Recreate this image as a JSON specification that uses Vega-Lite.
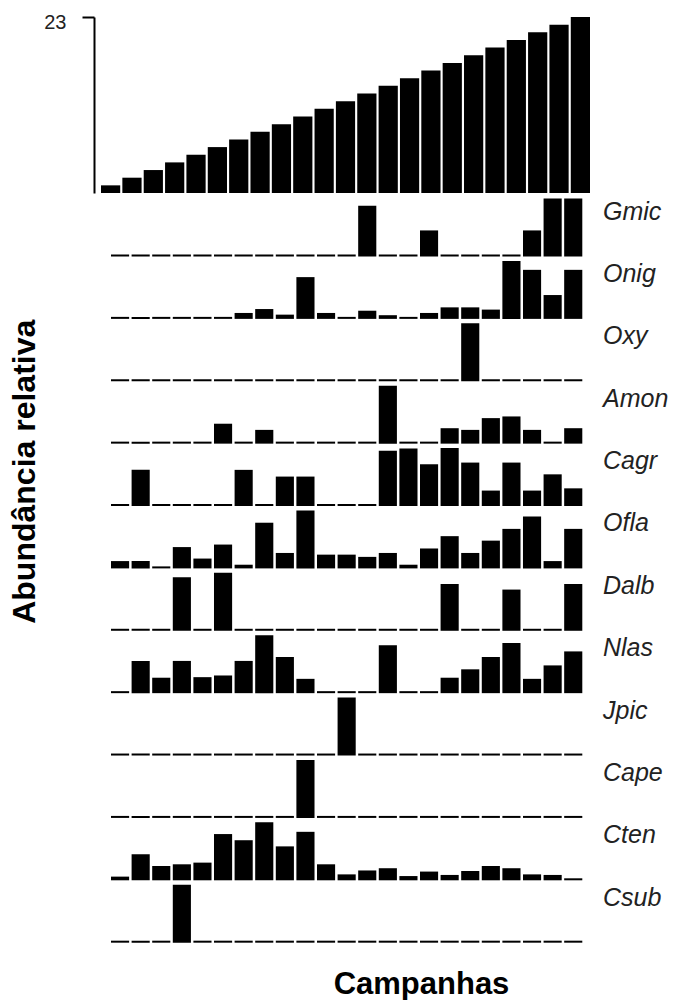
{
  "$schema": "https://vega.github.io/schema/vega-lite/v6.json",
  "padding": {"left": 8, "top": 12, "right": 4, "bottom": 0},
  "config": {
    "font": "Liberation Sans",
    "view": {"stroke": null}
  },
  "title": {
    "text": "Abundância relativa",
    "orient": "left",
    "anchor": "middle",
    "fontSize": 32,
    "fontWeight": "bold",
    "color": "black",
    "offset": 2,
    "dx": 34
  },
  "datasets": {
    "campanhas": [
      {"c": 1, "n": 1}, {"c": 2, "n": 2}, {"c": 3, "n": 3}, {"c": 4, "n": 4},
      {"c": 5, "n": 5}, {"c": 6, "n": 6}, {"c": 7, "n": 7}, {"c": 8, "n": 8},
      {"c": 9, "n": 9}, {"c": 10, "n": 10}, {"c": 11, "n": 11}, {"c": 12, "n": 12},
      {"c": 13, "n": 13}, {"c": 14, "n": 14}, {"c": 15, "n": 15}, {"c": 16, "n": 16},
      {"c": 17, "n": 17}, {"c": 18, "n": 18}, {"c": 19, "n": 19}, {"c": 20, "n": 20},
      {"c": 21, "n": 21}, {"c": 22, "n": 22}, {"c": 23, "n": 23}
    ],
    "abundancia": [
      {"sp": "Gmic", "c": 1, "v": 0}, {"sp": "Gmic", "c": 2, "v": 0}, {"sp": "Gmic", "c": 3, "v": 0}, {"sp": "Gmic", "c": 4, "v": 0},
      {"sp": "Gmic", "c": 5, "v": 0}, {"sp": "Gmic", "c": 6, "v": 0}, {"sp": "Gmic", "c": 7, "v": 0}, {"sp": "Gmic", "c": 8, "v": 0},
      {"sp": "Gmic", "c": 9, "v": 0}, {"sp": "Gmic", "c": 10, "v": 0}, {"sp": "Gmic", "c": 11, "v": 0}, {"sp": "Gmic", "c": 12, "v": 0},
      {"sp": "Gmic", "c": 13, "v": 0.87}, {"sp": "Gmic", "c": 14, "v": 0}, {"sp": "Gmic", "c": 15, "v": 0}, {"sp": "Gmic", "c": 16, "v": 0.43},
      {"sp": "Gmic", "c": 17, "v": 0}, {"sp": "Gmic", "c": 18, "v": 0}, {"sp": "Gmic", "c": 19, "v": 0}, {"sp": "Gmic", "c": 20, "v": 0},
      {"sp": "Gmic", "c": 21, "v": 0.43}, {"sp": "Gmic", "c": 22, "v": 1}, {"sp": "Gmic", "c": 23, "v": 1},

      {"sp": "Onig", "c": 1, "v": 0}, {"sp": "Onig", "c": 2, "v": 0}, {"sp": "Onig", "c": 3, "v": 0}, {"sp": "Onig", "c": 4, "v": 0},
      {"sp": "Onig", "c": 5, "v": 0}, {"sp": "Onig", "c": 6, "v": 0}, {"sp": "Onig", "c": 7, "v": 0.07}, {"sp": "Onig", "c": 8, "v": 0.14},
      {"sp": "Onig", "c": 9, "v": 0.04}, {"sp": "Onig", "c": 10, "v": 0.71}, {"sp": "Onig", "c": 11, "v": 0.07}, {"sp": "Onig", "c": 12, "v": 0},
      {"sp": "Onig", "c": 13, "v": 0.11}, {"sp": "Onig", "c": 14, "v": 0.03}, {"sp": "Onig", "c": 15, "v": 0}, {"sp": "Onig", "c": 16, "v": 0.07},
      {"sp": "Onig", "c": 17, "v": 0.17}, {"sp": "Onig", "c": 18, "v": 0.17}, {"sp": "Onig", "c": 19, "v": 0.13}, {"sp": "Onig", "c": 20, "v": 1},
      {"sp": "Onig", "c": 21, "v": 0.84}, {"sp": "Onig", "c": 22, "v": 0.39}, {"sp": "Onig", "c": 23, "v": 0.84},

      {"sp": "Oxy", "c": 1, "v": 0}, {"sp": "Oxy", "c": 2, "v": 0}, {"sp": "Oxy", "c": 3, "v": 0}, {"sp": "Oxy", "c": 4, "v": 0},
      {"sp": "Oxy", "c": 5, "v": 0}, {"sp": "Oxy", "c": 6, "v": 0}, {"sp": "Oxy", "c": 7, "v": 0}, {"sp": "Oxy", "c": 8, "v": 0},
      {"sp": "Oxy", "c": 9, "v": 0}, {"sp": "Oxy", "c": 10, "v": 0}, {"sp": "Oxy", "c": 11, "v": 0}, {"sp": "Oxy", "c": 12, "v": 0},
      {"sp": "Oxy", "c": 13, "v": 0}, {"sp": "Oxy", "c": 14, "v": 0}, {"sp": "Oxy", "c": 15, "v": 0}, {"sp": "Oxy", "c": 16, "v": 0},
      {"sp": "Oxy", "c": 17, "v": 0}, {"sp": "Oxy", "c": 18, "v": 1}, {"sp": "Oxy", "c": 19, "v": 0}, {"sp": "Oxy", "c": 20, "v": 0},
      {"sp": "Oxy", "c": 21, "v": 0}, {"sp": "Oxy", "c": 22, "v": 0}, {"sp": "Oxy", "c": 23, "v": 0},

      {"sp": "Amon", "c": 1, "v": 0}, {"sp": "Amon", "c": 2, "v": 0}, {"sp": "Amon", "c": 3, "v": 0}, {"sp": "Amon", "c": 4, "v": 0},
      {"sp": "Amon", "c": 5, "v": 0}, {"sp": "Amon", "c": 6, "v": 0.32}, {"sp": "Amon", "c": 7, "v": 0}, {"sp": "Amon", "c": 8, "v": 0.21},
      {"sp": "Amon", "c": 9, "v": 0}, {"sp": "Amon", "c": 10, "v": 0}, {"sp": "Amon", "c": 11, "v": 0}, {"sp": "Amon", "c": 12, "v": 0},
      {"sp": "Amon", "c": 13, "v": 0}, {"sp": "Amon", "c": 14, "v": 1}, {"sp": "Amon", "c": 15, "v": 0}, {"sp": "Amon", "c": 16, "v": 0},
      {"sp": "Amon", "c": 17, "v": 0.24}, {"sp": "Amon", "c": 18, "v": 0.21}, {"sp": "Amon", "c": 19, "v": 0.42}, {"sp": "Amon", "c": 20, "v": 0.45},
      {"sp": "Amon", "c": 21, "v": 0.21}, {"sp": "Amon", "c": 22, "v": 0}, {"sp": "Amon", "c": 23, "v": 0.24},

      {"sp": "Cagr", "c": 1, "v": 0}, {"sp": "Cagr", "c": 2, "v": 0.61}, {"sp": "Cagr", "c": 3, "v": 0}, {"sp": "Cagr", "c": 4, "v": 0},
      {"sp": "Cagr", "c": 5, "v": 0}, {"sp": "Cagr", "c": 6, "v": 0}, {"sp": "Cagr", "c": 7, "v": 0.61}, {"sp": "Cagr", "c": 8, "v": 0},
      {"sp": "Cagr", "c": 9, "v": 0.49}, {"sp": "Cagr", "c": 10, "v": 0.49}, {"sp": "Cagr", "c": 11, "v": 0}, {"sp": "Cagr", "c": 12, "v": 0},
      {"sp": "Cagr", "c": 13, "v": 0}, {"sp": "Cagr", "c": 14, "v": 0.95}, {"sp": "Cagr", "c": 15, "v": 0.99}, {"sp": "Cagr", "c": 16, "v": 0.71},
      {"sp": "Cagr", "c": 17, "v": 1}, {"sp": "Cagr", "c": 18, "v": 0.74}, {"sp": "Cagr", "c": 19, "v": 0.24}, {"sp": "Cagr", "c": 20, "v": 0.74},
      {"sp": "Cagr", "c": 21, "v": 0.24}, {"sp": "Cagr", "c": 22, "v": 0.53}, {"sp": "Cagr", "c": 23, "v": 0.28},

      {"sp": "Ofla", "c": 1, "v": 0.095}, {"sp": "Ofla", "c": 2, "v": 0.095}, {"sp": "Ofla", "c": 3, "v": 0}, {"sp": "Ofla", "c": 4, "v": 0.345},
      {"sp": "Ofla", "c": 5, "v": 0.14}, {"sp": "Ofla", "c": 6, "v": 0.39}, {"sp": "Ofla", "c": 7, "v": 0.03}, {"sp": "Ofla", "c": 8, "v": 0.78},
      {"sp": "Ofla", "c": 9, "v": 0.24}, {"sp": "Ofla", "c": 10, "v": 1}, {"sp": "Ofla", "c": 11, "v": 0.21}, {"sp": "Ofla", "c": 12, "v": 0.21},
      {"sp": "Ofla", "c": 13, "v": 0.17}, {"sp": "Ofla", "c": 14, "v": 0.24}, {"sp": "Ofla", "c": 15, "v": 0.03}, {"sp": "Ofla", "c": 16, "v": 0.32},
      {"sp": "Ofla", "c": 17, "v": 0.54}, {"sp": "Ofla", "c": 18, "v": 0.24}, {"sp": "Ofla", "c": 19, "v": 0.46}, {"sp": "Ofla", "c": 20, "v": 0.67},
      {"sp": "Ofla", "c": 21, "v": 0.89}, {"sp": "Ofla", "c": 22, "v": 0.095}, {"sp": "Ofla", "c": 23, "v": 0.67},

      {"sp": "Dalb", "c": 1, "v": 0}, {"sp": "Dalb", "c": 2, "v": 0}, {"sp": "Dalb", "c": 3, "v": 0}, {"sp": "Dalb", "c": 4, "v": 0.92},
      {"sp": "Dalb", "c": 5, "v": 0}, {"sp": "Dalb", "c": 6, "v": 1}, {"sp": "Dalb", "c": 7, "v": 0}, {"sp": "Dalb", "c": 8, "v": 0},
      {"sp": "Dalb", "c": 9, "v": 0}, {"sp": "Dalb", "c": 10, "v": 0}, {"sp": "Dalb", "c": 11, "v": 0}, {"sp": "Dalb", "c": 12, "v": 0},
      {"sp": "Dalb", "c": 13, "v": 0}, {"sp": "Dalb", "c": 14, "v": 0}, {"sp": "Dalb", "c": 15, "v": 0}, {"sp": "Dalb", "c": 16, "v": 0},
      {"sp": "Dalb", "c": 17, "v": 0.8}, {"sp": "Dalb", "c": 18, "v": 0}, {"sp": "Dalb", "c": 19, "v": 0}, {"sp": "Dalb", "c": 20, "v": 0.7},
      {"sp": "Dalb", "c": 21, "v": 0}, {"sp": "Dalb", "c": 22, "v": 0}, {"sp": "Dalb", "c": 23, "v": 0.8},

      {"sp": "Nlas", "c": 1, "v": 0}, {"sp": "Nlas", "c": 2, "v": 0.54}, {"sp": "Nlas", "c": 3, "v": 0.24}, {"sp": "Nlas", "c": 4, "v": 0.54},
      {"sp": "Nlas", "c": 5, "v": 0.25}, {"sp": "Nlas", "c": 6, "v": 0.28}, {"sp": "Nlas", "c": 7, "v": 0.54}, {"sp": "Nlas", "c": 8, "v": 1},
      {"sp": "Nlas", "c": 9, "v": 0.61}, {"sp": "Nlas", "c": 10, "v": 0.22}, {"sp": "Nlas", "c": 11, "v": 0}, {"sp": "Nlas", "c": 12, "v": 0},
      {"sp": "Nlas", "c": 13, "v": 0}, {"sp": "Nlas", "c": 14, "v": 0.82}, {"sp": "Nlas", "c": 15, "v": 0}, {"sp": "Nlas", "c": 16, "v": 0},
      {"sp": "Nlas", "c": 17, "v": 0.24}, {"sp": "Nlas", "c": 18, "v": 0.39}, {"sp": "Nlas", "c": 19, "v": 0.61}, {"sp": "Nlas", "c": 20, "v": 0.86},
      {"sp": "Nlas", "c": 21, "v": 0.22}, {"sp": "Nlas", "c": 22, "v": 0.46}, {"sp": "Nlas", "c": 23, "v": 0.71},

      {"sp": "Jpic", "c": 1, "v": 0}, {"sp": "Jpic", "c": 2, "v": 0}, {"sp": "Jpic", "c": 3, "v": 0}, {"sp": "Jpic", "c": 4, "v": 0},
      {"sp": "Jpic", "c": 5, "v": 0}, {"sp": "Jpic", "c": 6, "v": 0}, {"sp": "Jpic", "c": 7, "v": 0}, {"sp": "Jpic", "c": 8, "v": 0},
      {"sp": "Jpic", "c": 9, "v": 0}, {"sp": "Jpic", "c": 10, "v": 0}, {"sp": "Jpic", "c": 11, "v": 0}, {"sp": "Jpic", "c": 12, "v": 1},
      {"sp": "Jpic", "c": 13, "v": 0}, {"sp": "Jpic", "c": 14, "v": 0}, {"sp": "Jpic", "c": 15, "v": 0}, {"sp": "Jpic", "c": 16, "v": 0},
      {"sp": "Jpic", "c": 17, "v": 0}, {"sp": "Jpic", "c": 18, "v": 0}, {"sp": "Jpic", "c": 19, "v": 0}, {"sp": "Jpic", "c": 20, "v": 0},
      {"sp": "Jpic", "c": 21, "v": 0}, {"sp": "Jpic", "c": 22, "v": 0}, {"sp": "Jpic", "c": 23, "v": 0},

      {"sp": "Cape", "c": 1, "v": 0}, {"sp": "Cape", "c": 2, "v": 0}, {"sp": "Cape", "c": 3, "v": 0}, {"sp": "Cape", "c": 4, "v": 0},
      {"sp": "Cape", "c": 5, "v": 0}, {"sp": "Cape", "c": 6, "v": 0}, {"sp": "Cape", "c": 7, "v": 0}, {"sp": "Cape", "c": 8, "v": 0},
      {"sp": "Cape", "c": 9, "v": 0}, {"sp": "Cape", "c": 10, "v": 1}, {"sp": "Cape", "c": 11, "v": 0}, {"sp": "Cape", "c": 12, "v": 0},
      {"sp": "Cape", "c": 13, "v": 0}, {"sp": "Cape", "c": 14, "v": 0}, {"sp": "Cape", "c": 15, "v": 0}, {"sp": "Cape", "c": 16, "v": 0},
      {"sp": "Cape", "c": 17, "v": 0}, {"sp": "Cape", "c": 18, "v": 0}, {"sp": "Cape", "c": 19, "v": 0}, {"sp": "Cape", "c": 20, "v": 0},
      {"sp": "Cape", "c": 21, "v": 0}, {"sp": "Cape", "c": 22, "v": 0}, {"sp": "Cape", "c": 23, "v": 0},

      {"sp": "Cten", "c": 1, "v": 0.03}, {"sp": "Cten", "c": 2, "v": 0.43}, {"sp": "Cten", "c": 3, "v": 0.22}, {"sp": "Cten", "c": 4, "v": 0.25},
      {"sp": "Cten", "c": 5, "v": 0.28}, {"sp": "Cten", "c": 6, "v": 0.79}, {"sp": "Cten", "c": 7, "v": 0.68}, {"sp": "Cten", "c": 8, "v": 1},
      {"sp": "Cten", "c": 9, "v": 0.57}, {"sp": "Cten", "c": 10, "v": 0.83}, {"sp": "Cten", "c": 11, "v": 0.25}, {"sp": "Cten", "c": 12, "v": 0.07},
      {"sp": "Cten", "c": 13, "v": 0.14}, {"sp": "Cten", "c": 14, "v": 0.18}, {"sp": "Cten", "c": 15, "v": 0.04}, {"sp": "Cten", "c": 16, "v": 0.12},
      {"sp": "Cten", "c": 17, "v": 0.06}, {"sp": "Cten", "c": 18, "v": 0.13}, {"sp": "Cten", "c": 19, "v": 0.22}, {"sp": "Cten", "c": 20, "v": 0.18},
      {"sp": "Cten", "c": 21, "v": 0.07}, {"sp": "Cten", "c": 22, "v": 0.06}, {"sp": "Cten", "c": 23, "v": 0},

      {"sp": "Csub", "c": 1, "v": 0}, {"sp": "Csub", "c": 2, "v": 0}, {"sp": "Csub", "c": 3, "v": 0}, {"sp": "Csub", "c": 4, "v": 1},
      {"sp": "Csub", "c": 5, "v": 0}, {"sp": "Csub", "c": 6, "v": 0}, {"sp": "Csub", "c": 7, "v": 0}, {"sp": "Csub", "c": 8, "v": 0},
      {"sp": "Csub", "c": 9, "v": 0}, {"sp": "Csub", "c": 10, "v": 0}, {"sp": "Csub", "c": 11, "v": 0}, {"sp": "Csub", "c": 12, "v": 0},
      {"sp": "Csub", "c": 13, "v": 0}, {"sp": "Csub", "c": 14, "v": 0}, {"sp": "Csub", "c": 15, "v": 0}, {"sp": "Csub", "c": 16, "v": 0},
      {"sp": "Csub", "c": 17, "v": 0}, {"sp": "Csub", "c": 18, "v": 0}, {"sp": "Csub", "c": 19, "v": 0}, {"sp": "Csub", "c": 20, "v": 0},
      {"sp": "Csub", "c": 21, "v": 0}, {"sp": "Csub", "c": 22, "v": 0}, {"sp": "Csub", "c": 23, "v": 0}
    ]
  },
  "vconcat": [
    {
      "data": {"name": "campanhas"},
      "width": 489,
      "height": 176,
      "mark": {"type": "bar", "color": "black"},
      "encoding": {
        "x": {
          "field": "c",
          "type": "ordinal",
          "scale": {"paddingInner": 0.1, "paddingOuter": 0},
          "axis": null
        },
        "y": {
          "field": "n",
          "type": "quantitative",
          "scale": {"domain": [0, 23], "nice": false},
          "axis": {
            "title": null,
            "values": [23],
            "grid": false,
            "offset": 7,
            "domainColor": "black",
            "domainWidth": 2,
            "tickColor": "black",
            "tickWidth": 2,
            "tickSize": 12,
            "labelFontSize": 20,
            "labelColor": "#222",
            "labelPadding": 16,
            "labelOffset": 5
          }
        }
      }
    },
    {
      "data": {"name": "abundancia"},
      "facet": {
        "row": {
          "field": "sp",
          "type": "nominal",
          "sort": ["Gmic", "Onig", "Oxy", "Amon", "Cagr", "Ofla", "Dalb", "Nlas", "Jpic", "Cape", "Cten", "Csub"],
          "header": {
            "title": null,
            "labelOrient": "right",
            "labelAngle": 0,
            "labelAnchor": "start",
            "labelAlign": "right",
            "labelBaseline": "top",
            "labelFontSize": 25,
            "labelFontStyle": "italic",
            "labelColor": "#222",
            "labelPadding": 13
          }
        }
      },
      "spacing": {"row": 4.38},
      "spec": {
        "width": 489,
        "height": 56,
        "mark": {"type": "bar", "color": "black", "yOffset": -1, "y2Offset": 1},
        "encoding": {
          "x": {
            "field": "c",
            "type": "ordinal",
            "scale": {"range": [10, 481.3], "paddingInner": 0.12, "paddingOuter": 0},
            "axis": {
              "title": "Campanhas",
              "labels": false,
              "ticks": false,
              "domain": false,
              "grid": false,
              "titleFontSize": 31,
              "titleFontWeight": "bold",
              "titleColor": "black",
              "titlePadding": 26,
              "titleX": 320
            }
          },
          "y": {
            "field": "v",
            "type": "quantitative",
            "scale": {"domain": [0, 1], "nice": false},
            "axis": null
          },
          "y2": {"datum": 0}
        }
      }
    }
  ],
  "spacing": 5.5
}
